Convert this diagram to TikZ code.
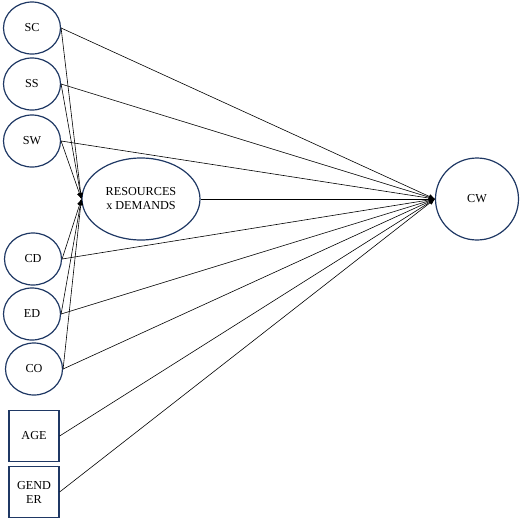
\documentclass[tikz,border=0pt]{standalone}
\usepackage{fontspec}
\setmainfont{Liberation Serif}
\usetikzlibrary{shapes.geometric}
\usetikzlibrary{arrows.meta}
\tikzset{>={Latex[length=6pt,width=5pt]}}
\definecolor{navy}{HTML}{1F3864}
\tikzset{latent/.style={ellipse,draw=navy,line width=1.2pt,minimum width=57pt,minimum height=52pt,inner sep=0pt,align=center,font=\fontsize{12.2}{14}\selectfont}}
\tikzset{obs/.style={rectangle,draw=navy,line width=1.2pt,minimum width=50pt,minimum height=51pt,inner sep=0pt,align=center,font=\fontsize{12.2}{14}\selectfont}}
\tikzset{link/.style={->,line width=0.6pt}}

\begin{document}
\begin{tikzpicture}[x=1pt,y=-1pt]
                    \useasboundingbox (0,0) rectangle (520,520);
                    \node[latent] (SC) at (32,28) {SC};
                    \node[latent] (SS) at (32,84) {SS};
                    \node[latent] (SW) at (32,141) {SW};
                    \node[latent] (CD) at (33,259) {CD};
                    \node[latent] (ED) at (32,314) {ED};
                    \node[latent] (CO) at (34,369) {CO};
                    \node[obs] (AGE) at (34,436) {AGE};
                    \node[obs] (GEN) at (34,492) {GEND\\ER};
                    \node[latent,minimum width=118pt,minimum height=82pt] (RES) at (141,199) {RESOURCES\\x DEMANDS};
                    \node[latent,minimum width=83pt,minimum height=82pt] (CW) at (477,199) {CW};

                    \draw[link] (SC.east) -- (RES.west);
                    \draw[link] (SS.east) -- (RES.west);
                    \draw[link] (SW.east) -- (RES.west);
                    \draw[link] (CD.east) -- (RES.west);
                    \draw[link] (ED.east) -- (RES.west);
                    \draw[link] (CO.east) -- (RES.west);

                    \draw[link] (SC.east) -- (CW.west);
                    \draw[link] (SS.east) -- (CW.west);
                    \draw[link] (SW.east) -- (CW.west);
                    \draw[link] (RES.east) -- (CW.west);
                    \draw[link] (CD.east) -- (CW.west);
                    \draw[link] (ED.east) -- (CW.west);
                    \draw[link] (CO.east) -- (CW.west);
                    \draw[link] (AGE.east) -- (CW.west);
                    \draw[link] (GEN.east) -- (CW.west);

                \end{tikzpicture}
\end{document}
